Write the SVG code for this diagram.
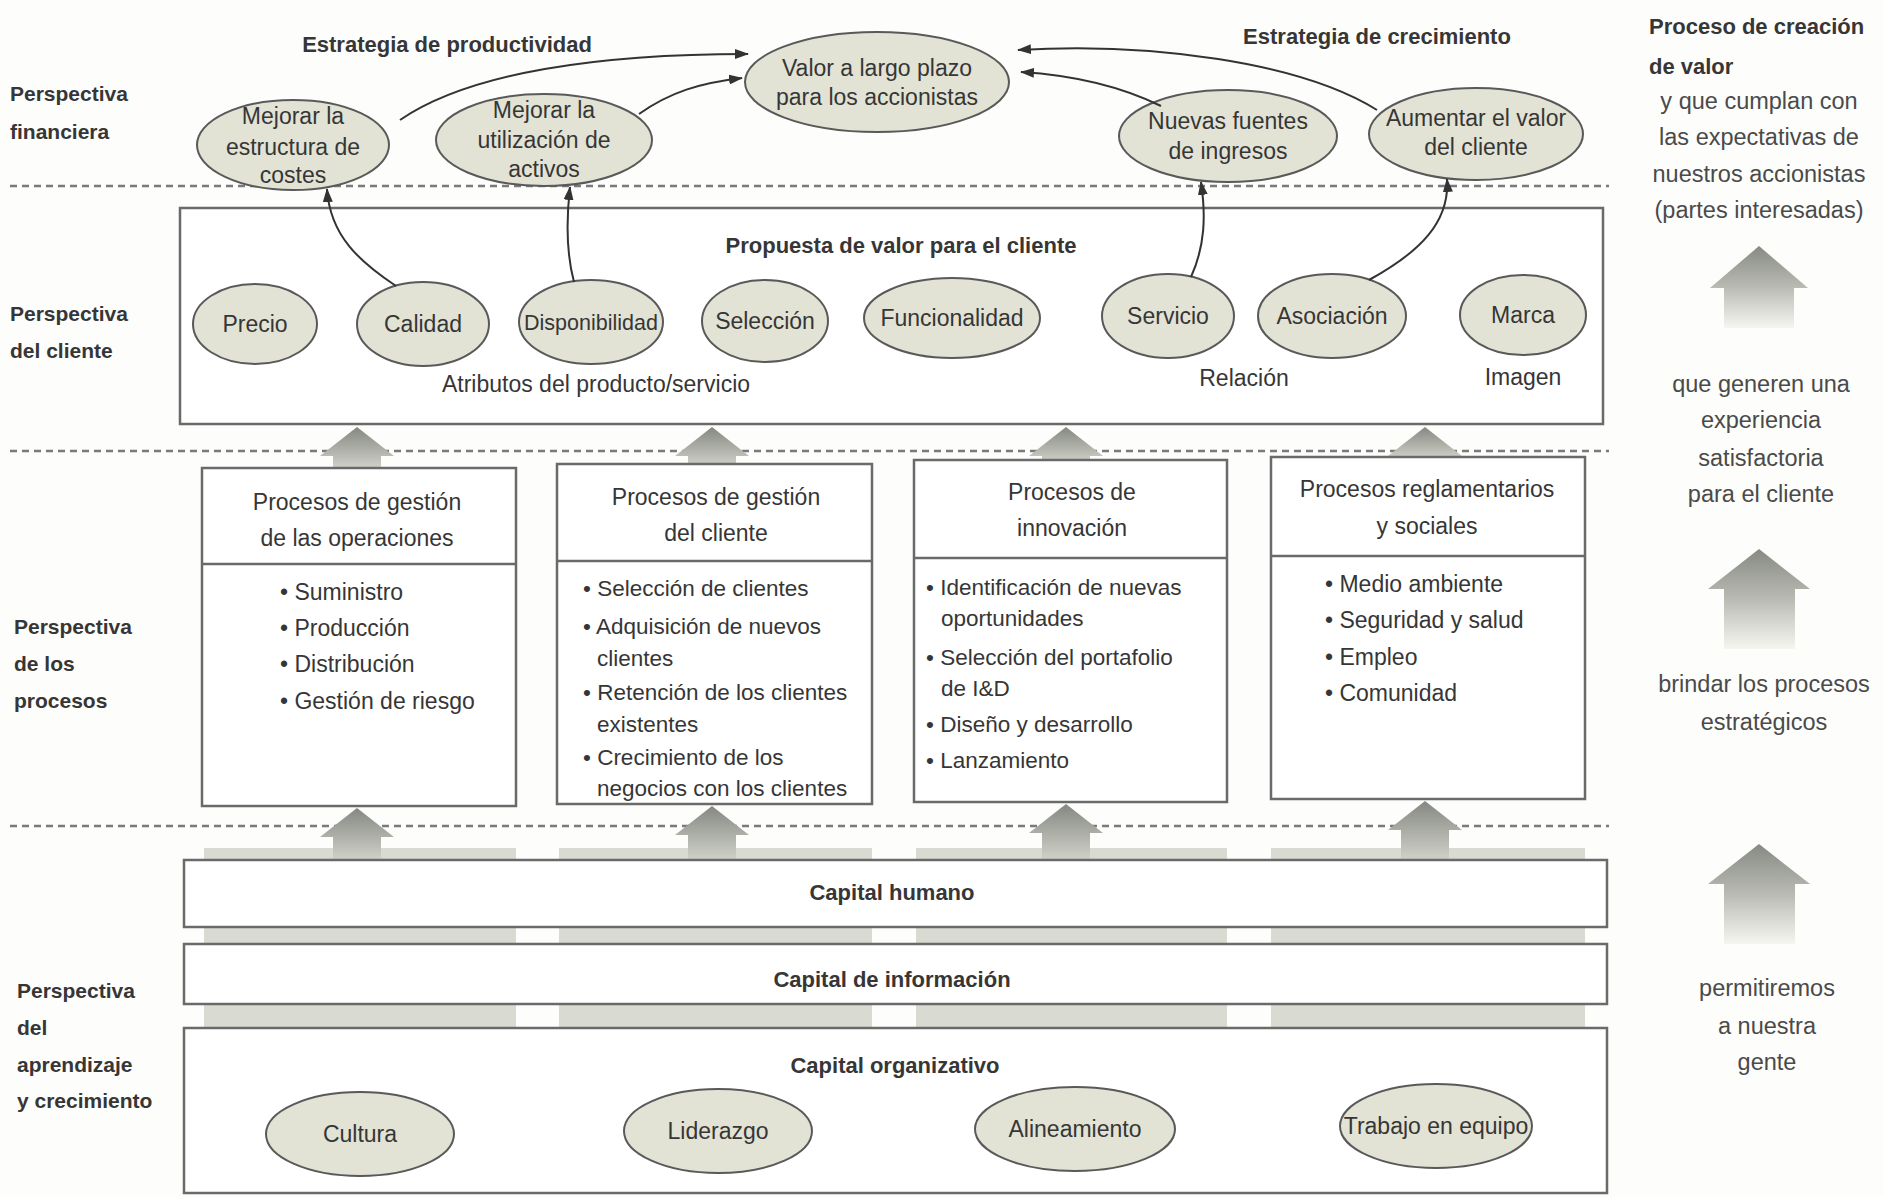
<svg xmlns="http://www.w3.org/2000/svg" width="1883" height="1197" viewBox="0 0 1883 1197">
<defs>
<style>
.t{font-family:"Liberation Sans",Arial,sans-serif;font-size:23px;fill:#363636}
.b{font-weight:bold;font-size:22px}
.lab{font-weight:bold;font-size:21px}
.c{text-anchor:middle}
.r{fill:#4a4a4a;font-size:23.5px}
.ell{fill:#e2e3d5;stroke:#595959;stroke-width:2}
.box{fill:#ffffff;stroke:#6a6a6a;stroke-width:2.5}
.div{stroke:#6a6a6a;stroke-width:2.5}
.dash{stroke:#7a7a7a;stroke-width:2.5;stroke-dasharray:7 5;fill:none}
.conn{fill:none;stroke:#333;stroke-width:2;marker-end:url(#ah)}
.band{fill:#d9dad1}
.la{fill:url(#lg)}
.house{fill:url(#hg)}
</style>
<marker id="ah" viewBox="0 0 14 10" refX="13" refY="5" markerWidth="14" markerHeight="10" markerUnits="userSpaceOnUse" orient="auto">
<path d="M0,0 L14,5 L0,10 z" fill="#333"/>
</marker>
<linearGradient id="hg" x1="0" y1="0" x2="0" y2="1">
<stop offset="0" stop-color="#878a83"/>
<stop offset="0.5" stop-color="#b9bbb3"/>
<stop offset="1" stop-color="#f6f6f1"/>
</linearGradient>
<linearGradient id="lg" x1="0" y1="0" x2="0" y2="1">
<stop offset="0" stop-color="#858881"/>
<stop offset="1" stop-color="#d3d5cc"/>
</linearGradient>
</defs>
<rect width="1883" height="1197" fill="#fdfdfb"/>

<!-- perspective separators -->
<g id="separators">
<line class="dash" x1="10" y1="186" x2="1609" y2="186"/>
<line class="dash" x1="10" y1="451" x2="1609" y2="451"/>
<line class="dash" x1="10" y1="826" x2="1609" y2="826"/>
</g>

<!-- perspective labels -->
<g id="labels">
<text class="t lab" x="10" y="101">Perspectiva</text>
<text class="t lab" x="10" y="139">financiera</text>
<text class="t lab" x="10" y="321">Perspectiva</text>
<text class="t lab" x="10" y="358">del cliente</text>
<text class="t lab" x="14" y="634">Perspectiva</text>
<text class="t lab" x="14" y="671">de los</text>
<text class="t lab" x="14" y="708">procesos</text>
<text class="t lab" x="17" y="998">Perspectiva</text>
<text class="t lab" x="17" y="1035">del</text>
<text class="t lab" x="17" y="1072">aprendizaje</text>
<text class="t lab" x="17" y="1108">y crecimiento</text>
<text class="t b c" x="447" y="52">Estrategia de productividad</text>
<text class="t b c" x="1377" y="44">Estrategia de crecimiento</text>
</g>

<!-- right column: value creation process -->
<g id="value-process">
<text class="t b" x="1649" y="34">Proceso de creación</text>
<text class="t b" x="1649" y="74">de valor</text>
<text class="t r c" x="1759" y="109">y que cumplan con</text>
<text class="t r c" x="1759" y="145">las expectativas de</text>
<text class="t r c" x="1759" y="182">nuestros accionistas</text>
<text class="t r c" x="1759" y="218">(partes interesadas)</text>
<path class="house" d="M1759,246 L1808,288 L1794,288 L1794,328 L1724,328 L1724,288 L1710,288 Z"/>
<text class="t r c" x="1761" y="392">que generen una</text>
<text class="t r c" x="1761" y="428">experiencia</text>
<text class="t r c" x="1761" y="466">satisfactoria</text>
<text class="t r c" x="1761" y="502">para el cliente</text>
<path class="house" d="M1759,549 L1810,589 L1795,589 L1795,649 L1724,649 L1724,589 L1708,589 Z"/>
<text class="t r c" x="1764" y="692">brindar los procesos</text>
<text class="t r c" x="1764" y="730">estratégicos</text>
<path class="house" d="M1759,844 L1810,884 L1795,884 L1795,944 L1724,944 L1724,884 L1708,884 Z"/>
<text class="t r c" x="1767" y="996">permitiremos</text>
<text class="t r c" x="1767" y="1034">a nuestra</text>
<text class="t r c" x="1767" y="1070">gente</text>
</g>

<!-- column bands behind capital boxes -->
<g id="bands">
<rect class="band" x="204" y="848" width="312" height="14"/>
<rect class="band" x="559" y="848" width="313" height="14"/>
<rect class="band" x="916" y="848" width="311" height="14"/>
<rect class="band" x="1271" y="848" width="314" height="14"/>
<rect class="band" x="204" y="927" width="312" height="19"/>
<rect class="band" x="559" y="927" width="313" height="19"/>
<rect class="band" x="916" y="927" width="311" height="19"/>
<rect class="band" x="1271" y="927" width="314" height="19"/>
<rect class="band" x="204" y="1004" width="312" height="26"/>
<rect class="band" x="559" y="1004" width="313" height="26"/>
<rect class="band" x="916" y="1004" width="311" height="26"/>
<rect class="band" x="1271" y="1004" width="314" height="26"/>
</g>

<!-- layer arrows -->
<g id="layer-arrows">
<path class="la" d="M357,427 L394,456 L381,456 L381,470 L333,470 L333,456 L320,456 Z"/>
<path class="la" d="M712,427 L749,456 L736,456 L736,468 L688,468 L688,456 L675,456 Z"/>
<path class="la" d="M1066,427 L1103,456 L1090,456 L1090,464 L1042,464 L1042,456 L1029,456 Z"/>
<path class="la" d="M1425,427 L1462,456 L1449,456 L1449,460 L1401,460 L1401,456 L1388,456 Z"/>
<path class="la" d="M357,808 L394,837 L381,837 L381,862 L333,862 L333,837 L320,837 Z"/>
<path class="la" d="M712,806 L749,835 L736,835 L736,862 L688,862 L688,835 L675,835 Z"/>
<path class="la" d="M1066,804 L1103,833 L1090,833 L1090,862 L1042,862 L1042,833 L1029,833 Z"/>
<path class="la" d="M1425,801 L1462,830 L1449,830 L1449,862 L1401,862 L1401,830 L1388,830 Z"/>
</g>

<!-- financial perspective -->
<g id="fin-costes">
<ellipse class="ell" cx="293" cy="145" rx="96" ry="45"/>
<text class="t c" x="293" y="124">Mejorar la</text>
<text class="t c" x="293" y="155">estructura de</text>
<text class="t c" x="293" y="183">costes</text>
</g>
<g id="fin-activos">
<ellipse class="ell" cx="544" cy="140" rx="108" ry="46"/>
<text class="t c" x="544" y="118">Mejorar la</text>
<text class="t c" x="544" y="148">utilización de</text>
<text class="t c" x="544" y="177">activos</text>
</g>
<g id="fin-valor">
<ellipse class="ell" cx="877" cy="82" rx="132" ry="50"/>
<text class="t c" x="877" y="76">Valor a largo plazo</text>
<text class="t c" x="877" y="105">para los accionistas</text>
</g>
<g id="fin-ingresos">
<ellipse class="ell" cx="1228" cy="136" rx="109" ry="46"/>
<text class="t c" x="1228" y="129">Nuevas fuentes</text>
<text class="t c" x="1228" y="159">de ingresos</text>
</g>
<g id="fin-valor-cliente">
<ellipse class="ell" cx="1476" cy="134" rx="107" ry="46"/>
<text class="t c" x="1476" y="126">Aumentar el valor</text>
<text class="t c" x="1476" y="155">del cliente</text>
</g>

<!-- customer perspective -->
<g id="cliente">
<rect class="box" x="180" y="208" width="1423" height="216"/>
<text class="t b c" x="901" y="253">Propuesta de valor para el cliente</text>
<text class="t c" x="596" y="392">Atributos del producto/servicio</text>
<text class="t c" x="1244" y="386">Relación</text>
<text class="t c" x="1523" y="385">Imagen</text>
</g>
<g id="cli-precio"><ellipse class="ell" cx="255" cy="324" rx="62" ry="40"/><text class="t c" x="255" y="332">Precio</text></g>
<g id="cli-calidad"><ellipse class="ell" cx="423" cy="324" rx="66" ry="42"/><text class="t c" x="423" y="332">Calidad</text></g>
<g id="cli-disponibilidad"><ellipse class="ell" cx="591" cy="322" rx="72" ry="42"/><text class="t c" x="591" y="330" style="font-size:21.5px">Disponibilidad</text></g>
<g id="cli-seleccion"><ellipse class="ell" cx="765" cy="321" rx="63" ry="41"/><text class="t c" x="765" y="329">Selección</text></g>
<g id="cli-funcionalidad"><ellipse class="ell" cx="952" cy="318" rx="88" ry="40"/><text class="t c" x="952" y="326">Funcionalidad</text></g>
<g id="cli-servicio"><ellipse class="ell" cx="1168" cy="316" rx="66" ry="42"/><text class="t c" x="1168" y="324">Servicio</text></g>
<g id="cli-asociacion"><ellipse class="ell" cx="1332" cy="316" rx="74" ry="42"/><text class="t c" x="1332" y="324">Asociación</text></g>
<g id="cli-marca"><ellipse class="ell" cx="1523" cy="315" rx="63" ry="40"/><text class="t c" x="1523" y="323">Marca</text></g>

<!-- process perspective -->
<g id="proc-operaciones">
<rect class="box" x="202" y="468" width="314" height="338"/>
<line class="div" x1="202" y1="564" x2="516" y2="564"/>
<text class="t c" x="357" y="510">Procesos de gestión</text>
<text class="t c" x="357" y="546">de las operaciones</text>
<text class="t" x="280" y="600">• Suministro</text>
<text class="t" x="280" y="636">• Producción</text>
<text class="t" x="280" y="672">• Distribución</text>
<text class="t" x="280" y="709">• Gestión de riesgo</text>
</g>
<g id="proc-cliente">
<rect class="box" x="557" y="464" width="315" height="340"/>
<line class="div" x1="557" y1="561" x2="872" y2="561"/>
<text class="t c" x="716" y="505">Procesos de gestión</text>
<text class="t c" x="716" y="541">del cliente</text>
<text class="t" x="583" y="596" style="font-size:22.5px">• Selección de clientes</text>
<text class="t" x="583" y="634" style="font-size:22.5px">• Adquisición de nuevos</text>
<text class="t" x="597" y="666" style="font-size:22.5px">clientes</text>
<text class="t" x="583" y="700" style="font-size:22.5px">• Retención de los clientes</text>
<text class="t" x="597" y="732" style="font-size:22.5px">existentes</text>
<text class="t" x="583" y="765" style="font-size:22.5px">• Crecimiento de los</text>
<text class="t" x="597" y="796" style="font-size:22.5px">negocios con los clientes</text>
</g>
<g id="proc-innovacion">
<rect class="box" x="914" y="460" width="313" height="342"/>
<line class="div" x1="914" y1="558" x2="1227" y2="558"/>
<text class="t c" x="1072" y="500">Procesos de</text>
<text class="t c" x="1072" y="536">innovación</text>
<text class="t" x="926" y="595" style="font-size:22.5px">• Identificación de nuevas</text>
<text class="t" x="941" y="626" style="font-size:22.5px">oportunidades</text>
<text class="t" x="926" y="665" style="font-size:22.5px">• Selección del portafolio</text>
<text class="t" x="941" y="696" style="font-size:22.5px">de I&amp;D</text>
<text class="t" x="926" y="732" style="font-size:22.5px">• Diseño y desarrollo</text>
<text class="t" x="926" y="768" style="font-size:22.5px">• Lanzamiento</text>
</g>
<g id="proc-reglamentarios">
<rect class="box" x="1271" y="457" width="314" height="342"/>
<line class="div" x1="1271" y1="556" x2="1585" y2="556"/>
<text class="t c" x="1427" y="497">Procesos reglamentarios</text>
<text class="t c" x="1427" y="534">y sociales</text>
<text class="t" x="1325" y="592">• Medio ambiente</text>
<text class="t" x="1325" y="628">• Seguridad y salud</text>
<text class="t" x="1325" y="665">• Empleo</text>
<text class="t" x="1325" y="701">• Comunidad</text>
</g>

<!-- learning and growth perspective -->
<g id="cap-humano">
<rect class="box" x="184" y="860" width="1423" height="67"/>
<text class="t b c" x="892" y="900">Capital humano</text>
</g>
<g id="cap-informacion">
<rect class="box" x="184" y="944" width="1423" height="60"/>
<text class="t b c" x="892" y="987">Capital de información</text>
</g>
<g id="cap-organizativo">
<rect class="box" x="184" y="1028" width="1423" height="165"/>
<text class="t b c" x="895" y="1073">Capital organizativo</text>
</g>
<g id="org-cultura"><ellipse class="ell" cx="360" cy="1134" rx="94" ry="42"/><text class="t c" x="360" y="1142">Cultura</text></g>
<g id="org-liderazgo"><ellipse class="ell" cx="718" cy="1131" rx="94" ry="42"/><text class="t c" x="718" y="1139">Liderazgo</text></g>
<g id="org-alineamiento"><ellipse class="ell" cx="1075" cy="1129" rx="100" ry="42"/><text class="t c" x="1075" y="1137">Alineamiento</text></g>
<g id="org-trabajo"><ellipse class="ell" cx="1436" cy="1126" rx="96" ry="42"/><text class="t c" x="1436" y="1134">Trabajo en equipo</text></g>

<!-- connectors -->
<g id="connectors">
<path class="conn" d="M400,120 C470,72 600,54 748,54"/>
<path class="conn" d="M639,114 C670,92 700,83 742,78"/>
<path class="conn" d="M1161,106 C1120,86 1070,75 1021,72"/>
<path class="conn" d="M1377,110 C1300,62 1150,42 1018,50"/>
<path class="conn" d="M396,286 C360,262 330,236 327,189"/>
<path class="conn" d="M574,282 C566,252 566,222 570,187"/>
<path class="conn" d="M1191,277 C1205,246 1206,216 1201,182"/>
<path class="conn" d="M1369,280 C1420,252 1450,222 1447,179"/>
</g>
</svg>
